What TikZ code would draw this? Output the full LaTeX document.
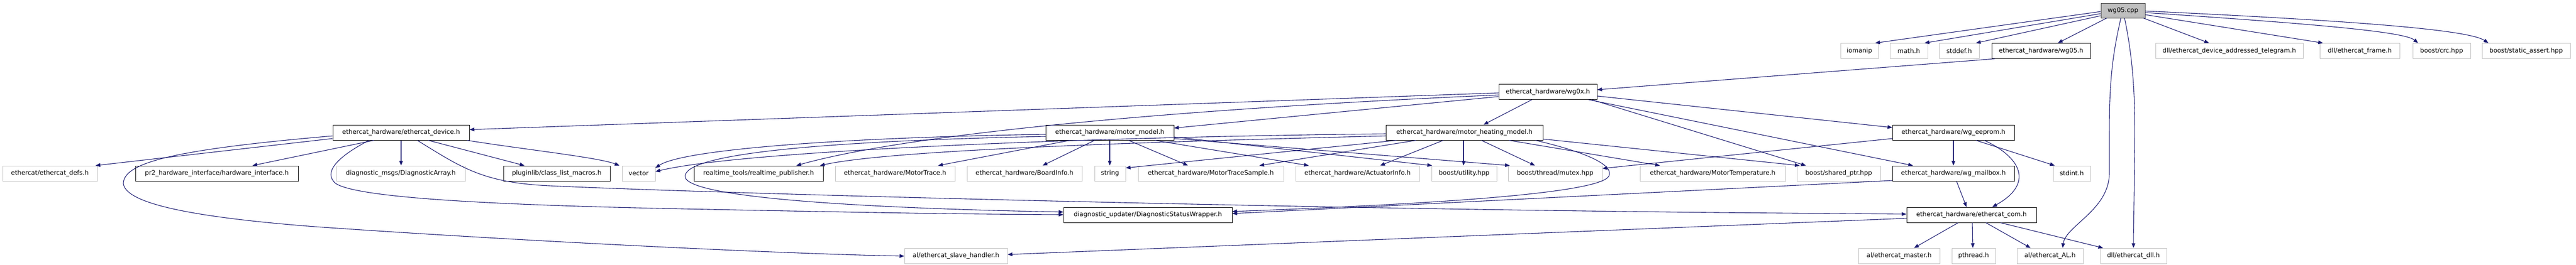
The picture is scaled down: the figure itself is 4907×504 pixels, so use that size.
\documentclass[tikz,border=0pt]{standalone}
\usepackage{fontspec}
\setmainfont{DejaVu Sans}
\usetikzlibrary{arrows.meta,calc}
\definecolor{edgec}{HTML}{191970}
\definecolor{undoc}{HTML}{BFBFBF}
\tikzset{
  box/.style={rectangle, minimum height=29pt, inner sep=0pt, font=\fontsize{12}{14}\selectfont, line width=1pt},
  docbox/.style={box, draw=black, fill=white},
  extbox/.style={box, draw=undoc, fill=white},
  srcbox/.style={box, draw=black!75, fill=undoc},
  dep/.style={draw=edgec, line width=1.1pt, -{Triangle[length=9pt,width=7pt]}},
}
\begin{document}
\begin{tikzpicture}[x=1pt,y=-1pt]
\useasboundingbox (0,0) rectangle (4907,504);
% row 1
\node[srcbox, minimum width=84pt, minimum height=28pt] (cpp) at (4044,20) {wg05.cpp};
% row 2
\node[extbox, minimum width=72pt] (iomanip) at (3542,97) {iomanip};
\node[extbox, minimum width=72pt] (mathh) at (3636,97) {math.h};
\node[extbox, minimum width=76pt] (stddef) at (3732,97) {stddef.h};
\node[docbox, minimum width=188pt] (wgofive) at (3888,97) {ethercat\_hardware/wg05.h};
\node[extbox, minimum width=281pt] (telegram) at (4246.5,97) {dll/ethercat\_device\_addressed\_telegram.h};
\node[extbox, minimum width=152pt] (frame) at (4495,97) {dll/ethercat\_frame.h};
\node[extbox, minimum width=110pt] (crc) at (4651,97) {boost/crc.hpp};
\node[extbox, minimum width=168pt] (sassert) at (4812,97) {boost/static\_assert.hpp};
% row 3
\node[docbox, minimum width=187pt] (wgox) at (2948.5,175) {ethercat\_hardware/wg0x.h};
% row 4
\node[docbox, minimum width=260pt] (edev) at (764,252.5) {ethercat\_hardware/ethercat\_device.h};
\node[docbox, minimum width=244pt] (mmodel) at (2114,252.5) {ethercat\_hardware/motor\_model.h};
\node[docbox, minimum width=299pt] (mheat) at (2789.5,252.5) {ethercat\_hardware/motor\_heating\_model.h};
\node[docbox, minimum width=232pt] (eeprom) at (3721,252.5) {ethercat\_hardware/wg\_eeprom.h};
% row 5
\node[extbox, minimum width=180pt] (defs) at (95,330.5) {ethercat/ethercat\_defs.h};
\node[docbox, minimum width=310pt] (hwif) at (413,330.5) {pr2\_hardware\_interface/hardware\_interface.h};
\node[extbox, minimum width=245pt] (darray) at (763.5,330.5) {diagnostic\_msgs/DiagnosticArray.h};
\node[docbox, minimum width=203pt] (clm) at (1060.5,330.5) {pluginlib/class\_list\_macros.h};
\node[extbox, minimum width=63pt] (vector) at (1216.5,330.5) {vector};
\node[docbox, minimum width=246pt] (rtpub) at (1445,330.5) {realtime\_tools/realtime\_publisher.h};
\node[extbox, minimum width=228pt] (mtrace) at (1705,330.5) {ethercat\_hardware/MotorTrace.h};
\node[extbox, minimum width=219pt] (binfo) at (1951.5,330.5) {ethercat\_hardware/BoardInfo.h};
\node[extbox, minimum width=59pt] (string) at (2114.5,330.5) {string};
\node[extbox, minimum width=277pt] (mtsample) at (2306.5,330.5) {ethercat\_hardware/MotorTraceSample.h};
\node[extbox, minimum width=236pt] (ainfo) at (2586,330.5) {ethercat\_hardware/ActuatorInfo.h};
\node[extbox, minimum width=124pt] (utility) at (2789,330.5) {boost/utility.hpp};
\node[extbox, minimum width=179pt] (mutex) at (2962.5,330.5) {boost/thread/mutex.hpp};
\node[extbox, minimum width=277pt] (mtemp) at (3262.5,330.5) {ethercat\_hardware/MotorTemperature.h};
\node[extbox, minimum width=159pt] (sptr) at (3502.5,330.5) {boost/shared\_ptr.hpp};
\node[docbox, minimum width=232pt] (mailbox) at (3721,330.5) {ethercat\_hardware/wg\_mailbox.h};
\node[extbox, minimum width=71pt] (stdint) at (3946.5,330.5) {stdint.h};
% row 6
\node[docbox, minimum width=321pt] (dsw) at (2186.5,409.5) {diagnostic\_updater/DiagnosticStatusWrapper.h};
\node[docbox, minimum width=247pt] (ecom) at (3755.5,409.5) {ethercat\_hardware/ethercat\_com.h};
% row 7
\node[extbox, minimum width=196pt] (slave) at (1821,487.5) {al/ethercat\_slave\_handler.h};
\node[extbox, minimum width=155pt] (master) at (3617.5,487.5) {al/ethercat\_master.h};
\node[extbox, minimum width=83pt] (pthread) at (3759.5,487.5) {pthread.h};
\node[extbox, minimum width=126pt] (al) at (3905,487.5) {al/ethercat\_AL.h};
\node[extbox, minimum width=126pt] (dll) at (4064,487.5) {dll/ethercat\_dll.h};

% edges from wg05.cpp
\draw[dep] (cpp.west |- 0,22) -- (iomanip.north -| 3572,0);
\draw[dep] (cpp.west |- 0,26) -- (mathh.north -| 3666,0);
\draw[dep] (cpp.west |- 0,30) -- (stddef.north -| 3764,0);
\draw[dep] (cpp.south -| 4013,0) -- (wgofive.north -| 3920,0);
\draw[dep] (cpp.south -| 4083,0) -- (telegram.north -| 4208,0);
\draw[dep] (cpp.east |- 0,28) -- (frame.north -| 4425,0);
\draw[dep] (cpp.east |- 0,24) .. controls (4400,45) and (4580,60) .. (crc.north -| 4606,0);
\draw[dep] (cpp.east |- 0,21) .. controls (4450,38) and (4700,55) .. (sassert.north -| 4740,0);
\draw[dep] (cpp.south -| 4040,0) .. controls (4025,100) and (4018,150) .. (4018,250) -- (4018,330) .. controls (4018,400) and (3935,430) .. (al.north -| 3929,0);
\draw[dep] (cpp.south -| 4047,0) .. controls (4065,120) and (4068,200) .. (4066,300) .. controls (4065,400) and (4064,440) .. (dll.north -| 4064,0);
% wg05.h
\draw[dep] (wgofive.south -| 3800,0) -- (wgox.east |- 0,171);
% wg0x.h
\draw[dep] (wgox.west |- 0,177) -- (edev.east |- 0,247);
\draw[dep] (wgox.west |- 0,181) .. controls (2300,205) and (1750,250) .. (rtpub.north -| 1517,0);
\draw[dep] (wgox.west |- 0,184) -- (mmodel.east |- 0,244);
\draw[dep] (wgox.south -| 2918,0) -- (mheat.north -| 2826,0);
\draw[dep] (wgox.east |- 0,183) -- (eeprom.west |- 0,243);
\draw[dep] (wgox.south -| 3032,0) -- (sptr.north -| 3440,0);
\draw[dep] (wgox.south -| 3026,0) -- (mailbox.north -| 3644,0);
% ethercat_device.h
\draw[dep] (edev.west |- 0,264) -- (defs.north -| 182,0);
\draw[dep] (edev.west |- 0,259) .. controls (330,285) and (235,310) .. (235,350) .. controls (240,390) and (380,415) .. (600,432) .. controls (1000,460) and (1500,484) .. (slave.west |- 0,488);
\draw[dep] (edev.south -| 712,0) -- (hwif.north -| 481,0);
\draw[dep] (edev.south -| 703,0) .. controls (640,300) and (615,330) .. (640,350) .. controls (680,375) and (900,390) .. (1300,398) .. controls (1600,404) and (1800,408) .. (dsw.west |- 0,409);
\draw[dep] (edev.south -| 764,0) -- (darray.north -| 764,0);
\draw[dep] (edev.south -| 795,0) .. controls (880,320) and (920,348) .. (1046,354) .. controls (1300,366) and (2300,395) .. (3270,405) -- (ecom.west |- 0,408);
\draw[dep] (edev.south -| 816,0) -- (clm.north -| 999,0);
\draw[dep] (edev.south -| 890,0) .. controls (1000,285) and (1140,300) .. (vector.north -| 1180,0);
% motor_model.h
\draw[dep] (mmodel.west |- 0,256) .. controls (1600,262) and (1300,285) .. (vector.east |- 0,320);
\draw[dep] (mmodel.west |- 0,260) .. controls (1600,268) and (1310,290) .. (1305,335) .. controls (1300,380) and (1700,398) .. (dsw.west |- 0,404);
\draw[dep] (mmodel.south -| 2038,0) -- (mtrace.north -| 1787,0);
\draw[dep] (mmodel.south -| 2085,0) -- (binfo.north -| 1986,0);
\draw[dep] (mmodel.south -| 2114,0) -- (string.north -| 2114,0);
\draw[dep] (mmodel.south -| 2150,0) -- (mtsample.north -| 2263,0);
\draw[dep] (mmodel.south -| 2200,0) -- (ainfo.north -| 2493,0);
\draw[dep] (mmodel.east |- 0,261) -- (utility.north -| 2728,0);
\draw[dep] (mmodel.east |- 0,264) -- (mutex.north -| 2876,0);
% motor_heating_model.h
\draw[dep] (mheat.west |- 0,255) .. controls (2000,262) and (1400,290) .. (vector.east |- 0,327);
\draw[dep] (mheat.west |- 0,259) .. controls (2200,270) and (1700,285) .. (rtpub.north -| 1562,0);
\draw[dep] (mheat.south -| 2660,0) -- (string.east |- 0,320);
\draw[dep] (mheat.south -| 2697,0) -- (mtsample.north -| 2399,0);
\draw[dep] (mheat.south -| 2749,0) -- (ainfo.north -| 2629,0);
\draw[dep] (mheat.south -| 2788,0) -- (utility.north -| 2788,0);
\draw[dep] (mheat.south -| 2822,0) -- (mutex.north -| 2924,0);
\draw[dep] (mheat.south -| 2875,0) -- (mtemp.north -| 3162,0);
\draw[dep] (mheat.east |- 0,265) -- (sptr.north -| 3428,0);
\draw[dep] (mheat.south -| 2925,0) .. controls (3000,285) and (3075,310) .. (3065,335) .. controls (3050,370) and (2700,390) .. (dsw.east |- 0,403);
% wg_eeprom.h
\draw[dep] (eeprom.west |- 0,264) -- (mutex.east |- 0,321);
\draw[dep] (eeprom.south -| 3721,0) -- (mailbox.north -| 3721,0);
\draw[dep] (eeprom.south -| 3764,0) -- (stdint.north -| 3914,0);
\draw[dep] (eeprom.south -| 3780,0) .. controls (3850,300) and (3875,350) .. (ecom.north -| 3795,0);
% wg_mailbox.h
\draw[dep] (mailbox.west |- 0,344) -- (dsw.east |- 0,407);
\draw[dep] (mailbox.south -| 3727,0) -- (ecom.north -| 3746,0);
% ethercat_com.h
\draw[dep] (ecom.west |- 0,416) -- (slave.east |- 0,485);
\draw[dep] (ecom.south -| 3730,0) -- (master.north -| 3646,0);
\draw[dep] (ecom.south -| 3757,0) -- (pthread.north -| 3758,0);
\draw[dep] (ecom.south -| 3783,0) -- (al.north -| 3868,0);
\draw[dep] (ecom.south -| 3811,0) -- (dll.north -| 4006,0);
\end{tikzpicture}
\end{document}
